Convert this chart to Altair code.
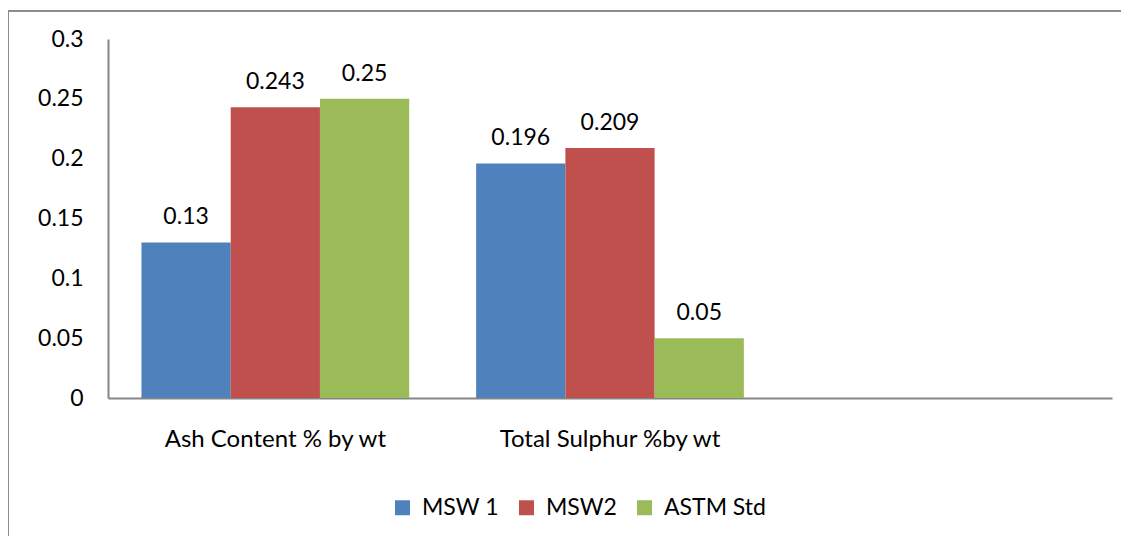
import altair as alt
import pandas as pd

categories = ["Ash Content % by wt", "Total Sulphur %by wt"]
x_domain = ["Ash Content % by wt", "Total Sulphur %by wt", " "]
series = ["MSW 1", "MSW2", "ASTM Std"]
msw1 = [0.13, 0.196]
msw2 = [0.243, 0.209]
astm = [0.25, 0.05]
colors = ["#4F81BD", "#C0504D", "#9BBB59"]
y_ticks = [0, 0.05, 0.1, 0.15, 0.2, 0.25, 0.3]

rows = []
for s, vals in zip(series, [msw1, msw2, astm]):
    for c, v in zip(categories, vals):
        rows.append({"category": c, "series": s, "value": v})
df = pd.DataFrame(rows)

FONT = "Lato"
FS = 23

x_scale = alt.Scale(domain=x_domain, paddingInner=0.2, paddingOuter=0.1)
x_enc = alt.X("category:N", scale=x_scale,
              axis=alt.Axis(title=None, labelAngle=0, ticks=False, tickSize=0, labelPadding=29,
                            labelLimit=0, labelFont=FONT, labelFontSize=FS + 1, labelColor="#000000",
                            domainColor="#868686", domainWidth=2, grid=False))
xo_enc = alt.XOffset("series:N", scale=alt.Scale(domain=series, paddingInner=0, paddingOuter=0))
y_enc = alt.Y("value:Q", scale=alt.Scale(domain=[0, 0.3], nice=False),
              axis=alt.Axis(title=None, values=y_ticks, format="~g", ticks=False, tickSize=0,
                            labelPadding=25, labelFont=FONT, labelFontSize=FS, labelColor="#000000",
                            domainColor="#868686", domainWidth=2, grid=False))

base = alt.Chart(df)
bars = base.mark_bar().encode(
    x=x_enc, xOffset=xo_enc, y=y_enc,
    color=alt.Color("series:N", scale=alt.Scale(domain=series, range=colors),
                    legend=alt.Legend(title=None, orient="none", direction="horizontal",
                                      legendX=283, legendY=457, symbolType="square",
                                      symbolSize=225, symbolStrokeWidth=0, labelFont=FONT,
                                      labelFontSize=FS, labelColor="#000000", labelOffset=8,
                                      columnPadding=16, padding=0)),
)
labels = base.mark_text(baseline="alphabetic", dy=-18, font=FONT, fontSize=FS, color="#000000").encode(
    x=alt.X("category:N", scale=x_scale),
    xOffset=xo_enc,
    y=alt.Y("value:Q"),
    text=alt.Text("value:Q", format="~g"),
)

frame_df = pd.DataFrame({"a": [0]})
top_line = alt.Chart(frame_df).mark_rule(color="#8c8c8c", strokeWidth=2).encode(
    x=alt.value(-100), x2=alt.value(1013), y=alt.value(-28))
left_line = alt.Chart(frame_df).mark_rule(color="#8c8c8c", strokeWidth=2).encode(
    x=alt.value(-100), y=alt.value(-28), y2=alt.value(497))

chart = alt.layer(bars, labels, top_line, left_line).properties(
    width=1004, height=359,
    background="#ffffff",
    autosize=alt.AutoSizeParams(type="none"),
    padding={"left": 100, "top": 31, "right": 9, "bottom": 138},
).configure_view(stroke=None)

chart.save("out.html", embed_options={"renderer": "svg", "actions": False})
